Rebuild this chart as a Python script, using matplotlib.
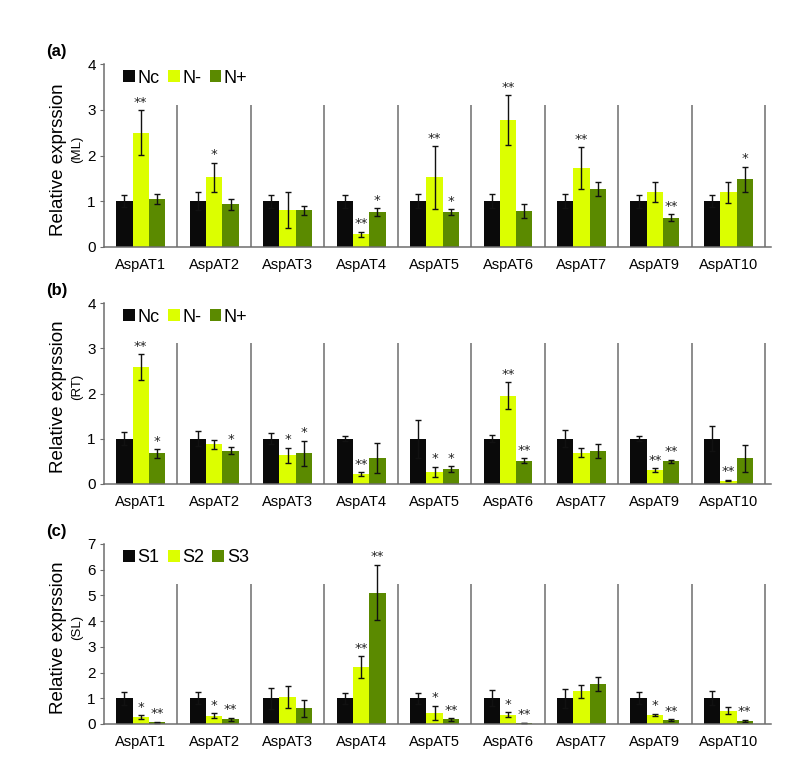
import matplotlib
matplotlib.use("Agg")
import matplotlib.pyplot as plt
import matplotlib.transforms as mtransforms
import numpy as np

plt.rcParams['font.family'] = ['Liberation Sans', 'DejaVu Sans']

genes = ['AspAT1', 'AspAT2', 'AspAT3', 'AspAT4', 'AspAT5',
         'AspAT6', 'AspAT7', 'AspAT9', 'AspAT10']

# (a) ML
ml_nc = [1.0, 1.0, 1.0, 1.0, 1.0, 1.0, 1.0, 1.0, 1.0]
ml_nc_err = [0.13, 0.20, 0.14, 0.14, 0.16, 0.15, 0.16, 0.14, 0.13]
ml_nm = [2.50, 1.52, 0.81, 0.27, 1.52, 2.78, 1.73, 1.20, 1.20]
ml_nm_err = [0.49, 0.32, 0.40, 0.06, 0.69, 0.54, 0.46, 0.21, 0.23]
ml_np = [1.05, 0.93, 0.80, 0.76, 0.76, 0.78, 1.26, 0.64, 1.48]
ml_np_err = [0.11, 0.12, 0.10, 0.09, 0.07, 0.15, 0.15, 0.07, 0.28]
ml_sig_nm = ['**', '*', '', '**', '**', '**', '**', '', '']
ml_sig_np = ['', '', '', '*', '*', '', '', '**', '*']

# (b) RT
rt_nc = [1.0, 1.0, 1.0, 1.0, 1.0, 1.0, 1.0, 1.0, 1.0]
rt_nc_err = [0.15, 0.16, 0.13, 0.06, 0.42, 0.07, 0.19, 0.05, 0.27]
rt_nm = [2.58, 0.87, 0.63, 0.21, 0.26, 1.95, 0.69, 0.30, 0.07]
rt_nm_err = [0.29, 0.11, 0.17, 0.05, 0.12, 0.30, 0.10, 0.04, 0.02]
rt_np = [0.67, 0.73, 0.67, 0.57, 0.33, 0.51, 0.73, 0.50, 0.56]
rt_np_err = [0.10, 0.08, 0.28, 0.33, 0.06, 0.05, 0.15, 0.03, 0.30]
rt_sig_nm = ['**', '', '*', '**', '*', '**', '', '**', '**']
rt_sig_np = ['*', '*', '*', '', '*', '**', '', '**', '']

# (c) SL
sl_s1 = [1.0, 1.0, 1.0, 1.0, 1.0, 1.0, 1.0, 1.0, 1.0]
sl_s1_err = [0.26, 0.24, 0.41, 0.22, 0.22, 0.32, 0.36, 0.23, 0.28]
sl_s2 = [0.27, 0.32, 1.05, 2.22, 0.44, 0.36, 1.27, 0.35, 0.52]
sl_s2_err = [0.08, 0.09, 0.44, 0.42, 0.27, 0.09, 0.26, 0.05, 0.14]
sl_s3 = [0.065, 0.19, 0.61, 5.11, 0.18, 0.04, 1.56, 0.16, 0.12]
sl_s3_err = [0.02, 0.06, 0.34, 1.08, 0.05, 0.01, 0.26, 0.03, 0.05]
sl_sig_s2 = ['*', '*', '', '**', '*', '*', '', '*', '']
sl_sig_s3 = ['**', '**', '', '**', '**', '**', '', '**', '**']

colors = ['#0a0a0a', '#dcff00', '#5b8a00']
spine_color = '#6e6e6e'


def plot_panel(ax, series, errs, sigs, labels, ymax, tag, unit):
    """Grouped bar panel with error bars, stars and group separators"""
    x = np.arange(len(genes)) + 0.5
    w = 0.222
    for j in range(3):
        pos = x + (j - 1) * w
        ax.bar(pos, series[j], width=w, color=colors[j], label=labels[j],
               yerr=errs[j], capsize=2.5,
               error_kw=dict(elinewidth=1.0, capthick=1.0, ecolor='#111111'))
        if sigs[j] is None:
            continue
        for k in range(len(genes)):
            if sigs[j][k]:
                ax.annotate(sigs[j][k], (pos[k], series[j][k] + errs[j][k]),
                            xytext=(0, 1), textcoords='offset points',
                            ha='center', va='bottom', fontsize=9.5,
                            family='DejaVu Sans', color='#222222')

    # separators between genes
    trans = mtransforms.blended_transform_factory(ax.transData, ax.transAxes)
    ax.vlines(np.arange(1, len(genes) + 1), 0, 0.78, transform=trans,
              color=spine_color, lw=1.1)

    ax.set_xlim(0, 9.08)
    ax.set_ylim(0, ymax)
    ax.set_yticks(range(0, ymax + 1))
    ax.set_xticks(x)
    ax.set_xticklabels(genes, fontsize=10.5)
    ax.tick_params(axis='x', length=0, pad=8)
    ax.tick_params(axis='y', length=3, direction='out', labelsize=11,
                   color=spine_color, pad=3)
    for s in ['top', 'right']:
        ax.spines[s].set_visible(False)
    for s in ['left', 'bottom']:
        ax.spines[s].set_color(spine_color)
        ax.spines[s].set_linewidth(1.1)

    ax.text(-0.068, 0.48, 'Relative exprssion', transform=ax.transAxes,
            rotation=90, ha='center', va='center', fontsize=13.5)
    ax.text(-0.041, 0.535, '(' + unit + ')', transform=ax.transAxes,
            rotation=90, ha='center', va='center', fontsize=9.5)
    ax.text(-0.087, 1.07, tag, transform=ax.transAxes, ha='left',
            va='center', fontsize=12, fontweight='bold')

    ax.legend(loc='upper left', bbox_to_anchor=(0.018, 1.01), ncol=3,
              frameon=False, fontsize=13, handlelength=0.65,
              handleheight=0.65, handletextpad=0.15, columnspacing=0.45,
              borderaxespad=0)


def main():
    fig = plt.figure(figsize=(7.94, 7.64), dpi=100)
    ax_a = fig.add_axes([0.131, 0.677, 0.84, 0.2387])
    ax_b = fig.add_axes([0.131, 0.3669, 0.84, 0.236])
    ax_c = fig.add_axes([0.131, 0.0524, 0.84, 0.2356])

    plot_panel(ax_a, [ml_nc, ml_nm, ml_np], [ml_nc_err, ml_nm_err, ml_np_err],
               [None, ml_sig_nm, ml_sig_np], ['Nc', 'N-', 'N+'], 4, '(a)', 'ML')
    plot_panel(ax_b, [rt_nc, rt_nm, rt_np], [rt_nc_err, rt_nm_err, rt_np_err],
               [None, rt_sig_nm, rt_sig_np], ['Nc', 'N-', 'N+'], 4, '(b)', 'RT')
    plot_panel(ax_c, [sl_s1, sl_s2, sl_s3], [sl_s1_err, sl_s2_err, sl_s3_err],
               [None, sl_sig_s2, sl_sig_s3], ['S1', 'S2', 'S3'], 7, '(c)', 'SL')

    fig.savefig('out.png', dpi=100)


if __name__ == "__main__":
    main()
